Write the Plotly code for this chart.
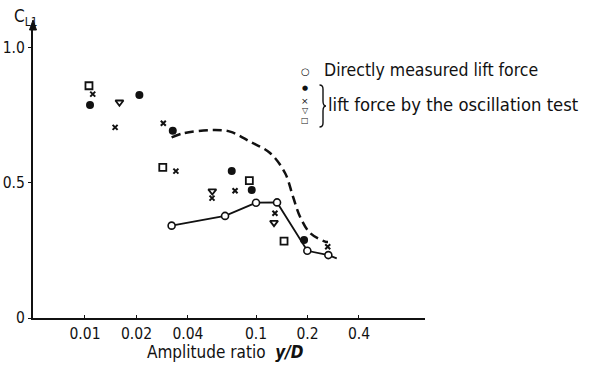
import plotly.graph_objects as go

# Directly measured lift force (open circles, solid line)
direct_x = [0.0321, 0.0659, 0.100, 0.1327, 0.1995, 0.2648]
direct_y = [0.342, 0.378, 0.427, 0.428, 0.249, 0.233]
direct_line_x = [0.0321, 0.0659, 0.100, 0.1327, 0.1995, 0.2648, 0.2965]
direct_line_y = [0.342, 0.378, 0.427, 0.428, 0.249, 0.233, 0.221]

# Dashed curve
dash_x = [0.0321, 0.0376, 0.0560, 0.0705, 0.0923, 0.1208, 0.1478, 0.1646, 0.1809, 0.207, 0.2532, 0.2635]
dash_y = [0.669, 0.684, 0.696, 0.690, 0.653, 0.611, 0.537, 0.449, 0.375, 0.315, 0.283, 0.281]

# Lift force by the oscillation test
dot_x = [0.0107, 0.0208, 0.0326, 0.0721, 0.0944, 0.191]
dot_y = [0.789, 0.826, 0.693, 0.544, 0.474, 0.289]

cross_x = [0.0111, 0.0150, 0.0287, 0.0340, 0.0553, 0.0754, 0.129, 0.2626]
cross_y = [0.829, 0.706, 0.721, 0.544, 0.444, 0.471, 0.388, 0.264]

tri_x = [0.0159, 0.0555, 0.1274]
tri_y = [0.799, 0.470, 0.353]

sq_x = [0.01055, 0.0285, 0.0914, 0.1458]
sq_y = [0.860, 0.558, 0.509, 0.285]

x_ticks = [0.01, 0.02, 0.04, 0.1, 0.2, 0.4]
x_tick_labels = ["0.01", "0.02", "0.04", "0.1", "0.2", "0.4"]
y_ticks = [0, 0.5, 1.0]
y_tick_labels = ["0", "0.5", "1.0"]

FONT = "DejaVu Sans Condensed, Liberation Sans Narrow, DejaVu Sans, sans-serif"
INK = "#111111"

fig = go.Figure()
fig.add_trace(go.Scatter(x=dash_x, y=dash_y, mode="lines",
                         line=dict(color=INK, width=2.5, dash="9px,5px", shape="spline"),
                         hoverinfo="skip", showlegend=False))
fig.add_trace(go.Scatter(x=direct_line_x, y=direct_line_y, mode="lines",
                         line=dict(color=INK, width=1.8), hoverinfo="skip", showlegend=False))
fig.add_trace(go.Scatter(x=direct_x, y=direct_y, mode="markers",
                         marker=dict(symbol="circle", size=7, color="white",
                                     line=dict(color=INK, width=1.6)),
                         showlegend=False))
fig.add_trace(go.Scatter(x=dot_x, y=dot_y, mode="markers",
                         marker=dict(symbol="circle", size=8, color=INK), showlegend=False))
fig.add_trace(go.Scatter(x=cross_x, y=cross_y, mode="markers",
                         marker=dict(symbol="x-thin", size=5, color=INK,
                                     line=dict(color=INK, width=2)), showlegend=False))
fig.add_trace(go.Scatter(x=tri_x, y=tri_y, mode="markers",
                         marker=dict(symbol="triangle-down-open", size=7, color=INK,
                                     line=dict(color=INK, width=1.8)), showlegend=False))
fig.add_trace(go.Scatter(x=sq_x, y=sq_y, mode="markers",
                         marker=dict(symbol="square-open", size=7, color=INK,
                                     line=dict(color=INK, width=1.8)), showlegend=False))

W, H = 590, 367
L, R, T, B = 33, 425, 25, 318


def px(x):
    return (x - L) / (R - L)


def py(y):
    return (B - y) / (B - T)


annotations = []
# Y axis label C_L1
annotations.append(dict(x=px(12), y=py(17), xref="paper", yref="paper", xanchor="left",
                        yanchor="middle", showarrow=False,
                        text="C<sub>L1</sub>", font=dict(family=FONT, size=17, color=INK)))
# X axis title
annotations.append(dict(x=px(145), y=py(352), xref="paper", yref="paper", xanchor="left",
                        yanchor="middle", showarrow=False,
                        text="Amplitude ratio  <b><i>y/D</i></b>",
                        font=dict(family=FONT, size=17, color=INK)))
# Legend
legend_items = [
    ("○", 71, 10), ("●", 88, 7), ("×", 101, 9), ("▽", 110, 8), ("□", 120, 8),
]
for sym, yy, sz in legend_items:
    annotations.append(dict(x=px(305), y=py(yy), xref="paper", yref="paper",
                            xanchor="center", yanchor="middle", showarrow=False,
                            borderpad=0,
                            text=sym, font=dict(family="DejaVu Sans", size=sz, color=INK)))
annotations.append(dict(x=px(322), y=py(70), xref="paper", yref="paper", xanchor="left",
                        yanchor="middle", showarrow=False,
                        text="Directly measured lift force",
                        font=dict(family=FONT, size=17.5, color=INK)))
annotations.append(dict(x=px(326), y=py(104), xref="paper", yref="paper", xanchor="left",
                        yanchor="middle", showarrow=False,
                        text="lift force by the oscillation test",
                        font=dict(family=FONT, size=18.3, color=INK)))

# brace
path = (f"M {px(319.5)},{py(85)} "
        f"Q {px(323)},{py(85)} {px(323)},{py(89)} "
        f"L {px(323)},{py(101)} "
        f"Q {px(323)},{py(106)} {px(326)},{py(106)} "
        f"Q {px(323)},{py(106)} {px(323)},{py(111)} "
        f"L {px(323)},{py(123)} "
        f"Q {px(323)},{py(127)} {px(319.5)},{py(127)}")
# arrow head on y axis
arrow = (f"M {px(33)},{py(20)} L {px(29.5)},{py(30)} L {px(36.5)},{py(30)} Z")
shapes = [dict(type="path", xref="paper", yref="paper", path=path,
               line=dict(color=INK, width=1.4)),
          dict(type="path", xref="paper", yref="paper", path=arrow,
               fillcolor=INK, line=dict(color=INK, width=1))]

fig.update_layout(
    width=W, height=H,
    margin=dict(l=L, r=W - R, t=T, b=H - B, pad=0, autoexpand=False),
    paper_bgcolor="white", plot_bgcolor="white",
    showlegend=False,
    annotations=annotations,
    shapes=shapes,
    font=dict(family=FONT, size=15, color=INK),
)
fig.update_xaxes(type="log", range=[-2.304, -0.012], automargin=False,
                 tickvals=x_ticks, ticktext=x_tick_labels,
                 showgrid=False, zeroline=False, showline=True, linecolor=INK, linewidth=2,
                 ticks="inside", ticklen=3, tickcolor=INK, tickwidth=1,
                 tickfont=dict(family=FONT, size=15.5, color=INK))
fig.update_yaxes(range=[0, 1.085], automargin=False, tickvals=y_ticks, ticktext=y_tick_labels,
                 showgrid=False, zeroline=False, showline=True, linecolor=INK, linewidth=2,
                 ticks="outside", ticklen=3, tickcolor=INK, tickwidth=1,
                 tickfont=dict(family=FONT, size=15.5, color=INK))

fig.write_html("out.html", config={"displayModeBar": False},
               post_script="document.body.style.margin='0';document.body.style.overflow='hidden';")
